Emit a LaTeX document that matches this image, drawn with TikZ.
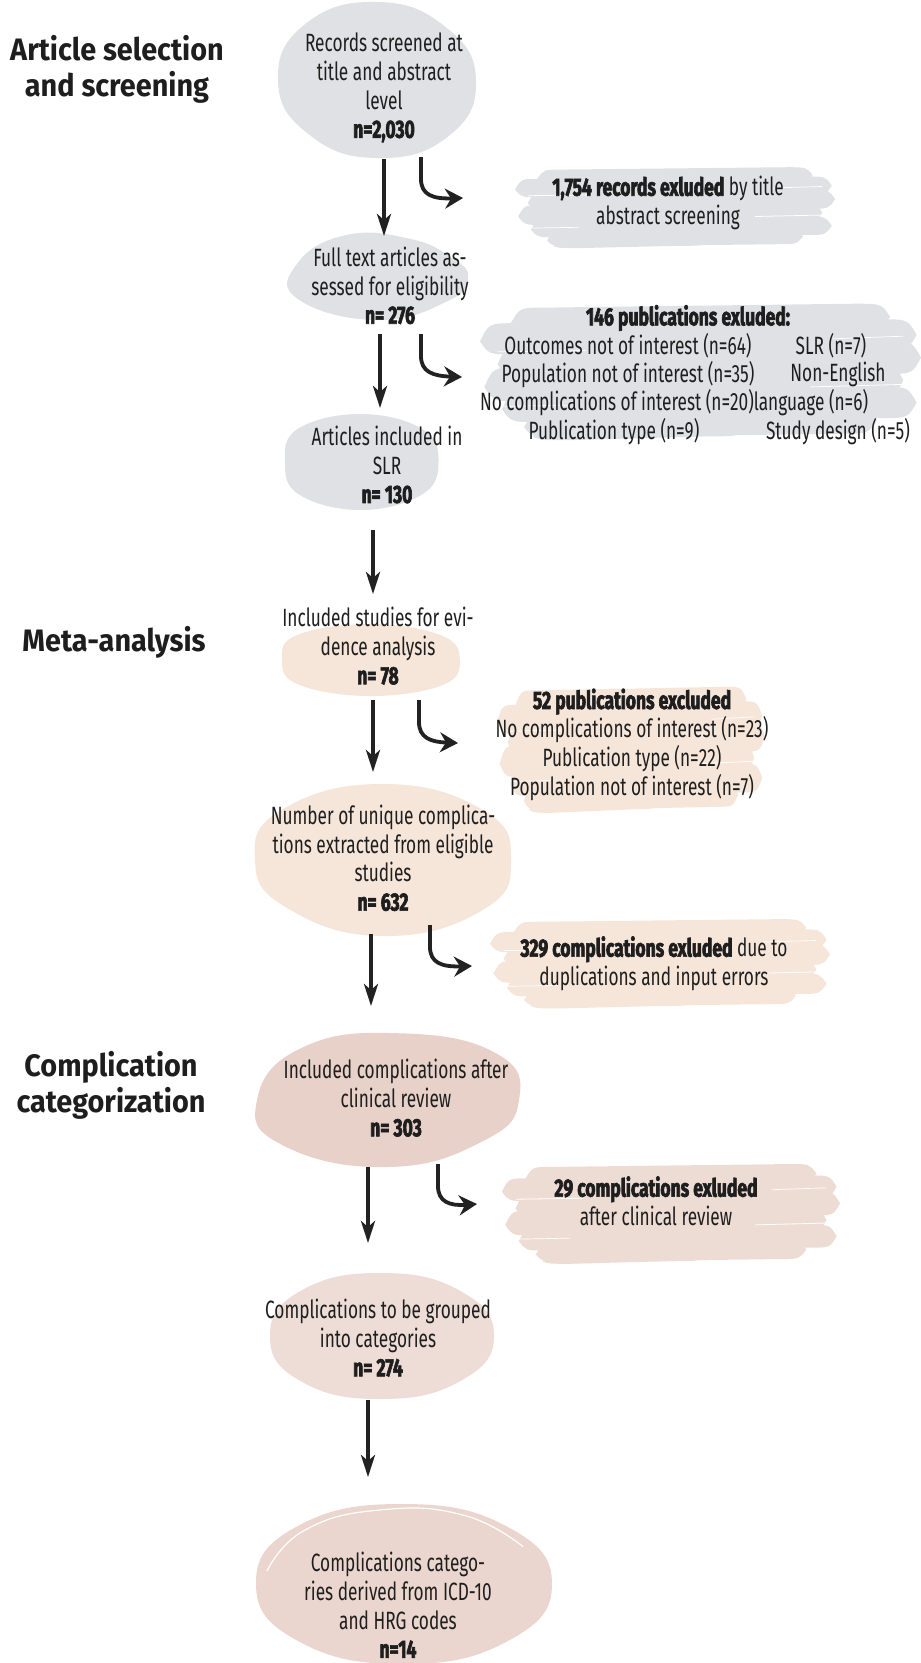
\documentclass[tikz,border=0pt]{standalone}
\usepackage{fontspec}
\setmainfont[FakeStretch=0.69]{Fira Sans}
\newfontfamily\heavyfam[FakeStretch=0.70,FakeBold=2.5,UprightFont={* Bold}]{Fira Sans}
\newfontfamily\headfam[FakeStretch=0.93]{Fira Sans}
\usetikzlibrary{arrows.meta,calc}
\definecolor{grayb}{HTML}{DFE1E4}
\definecolor{beigeb}{HTML}{F6E6DA}
\definecolor{pinka}{HTML}{E8D1C8}
\definecolor{pinkb}{HTML}{EEDDD6}
\definecolor{pinkc}{HTML}{EAD6CE}
\definecolor{pinkd}{HTML}{EDDCD4}
\definecolor{textc}{HTML}{1E1E1E}
\definecolor{arrc}{HTML}{222222}
\newcommand\hv[1]{{\heavyfam #1}}
\newcommand\streak[4]{\fill (#1,{(#3+#4)/2+0.02}) .. controls ({#1+0.02},#3) .. ({#1+0.08},#3) -- ({#2-0.08},{#3-0.03}) .. controls ({#2-0.02},{#3-0.03}) .. (#2,{(#3+#4)/2-0.03}) .. controls ({#2-0.02},{#4-0.03}) .. ({#2-0.08},{#4-0.03}) -- ({#1+0.08},#4) .. controls ({#1+0.02},#4) .. cycle;}
\newcommand\brushband[5]{%
\begin{scope}[shift={(#1,#2)},xscale=#3,yscale=#4,fill=#5]
\streak{0.07}{0.93}{0.02}{0.22}
\streak{0.00}{0.99}{0.14}{0.38}
\streak{0.04}{1.00}{0.31}{0.56}
\streak{0.01}{0.96}{0.48}{0.74}
\streak{0.05}{0.99}{0.66}{0.90}
\streak{0.10}{0.90}{0.82}{1.02}
\streak{0.12}{0.60}{0.95}{1.04}
\draw[white,line width=0.8pt] (0.04,0.36) -- (0.24,0.35);
\draw[white,line width=0.8pt] (0.75,0.63) -- (0.97,0.61);
\draw[white,line width=0.7pt] (0.05,0.78) -- (0.2,0.77);
\draw[white,line width=0.7pt] (0.8,0.26) -- (0.96,0.24);
\end{scope}}
\tikzset{
  txt/.style={align=center,inner sep=0pt,text=textc,font=\fontsize{25}{28.7}\selectfont},
  headtxt/.style={align=center,inner sep=0pt,text=textc,font=\headfam\bfseries\fontsize{31}{36}\selectfont},
  arr/.style={draw=arrc,line width=3.8pt,-{Stealth[length=22pt,width=14pt,inset=6pt]}},
  carr/.style={draw=arrc,line width=3.8pt,-{Stealth[length=18pt,width=20pt,inset=6pt]}}
}
\begin{document}
\begin{tikzpicture}[x=1pt,y=-1pt]
\useasboundingbox (0,0) rectangle (921,1663);
\fill[white] (0,0) rectangle (921,1663);
% ---------- blobs ----------
\begin{scope}[shift={(377,80)},xscale=99,yscale=78]
\fill[grayb] plot[smooth cycle,tension=0.8] coordinates {(0:1) (45:1.02) (90:1) (135:0.98) (180:1) (225:1.02) (270:1) (315:0.97)};
\end{scope}
\begin{scope}[shift={(378,278)},xscale=90,yscale=42]
\fill[grayb] plot[smooth cycle,tension=0.8] coordinates {(0:1) (35:0.95) (90:1) (150:1.02) (200:0.96) (250:1.08) (290:1) (330:0.95)};
\end{scope}
\begin{scope}[shift={(361,462)},xscale=76,yscale=48]
\fill[grayb] plot[smooth cycle,tension=0.7] coordinates {(0:1.02) (40:1.05) (90:1) (140:1.06) (180:1) (220:1.08) (270:1) (320:1.06)};
\end{scope}
\begin{scope}[shift={(370,660)},xscale=88,yscale=36]
\fill[beigeb] plot[smooth cycle,tension=0.7] coordinates {(0:1.02) (40:1.08) (90:1) (140:1.06) (180:1) (220:1.08) (270:1) (320:1.06)};
\end{scope}
\begin{scope}[shift={(383,860)},xscale=128,yscale=76]
\fill[beigeb] plot[smooth cycle,tension=0.8] coordinates {(0:1) (40:1.02) (90:1) (140:0.98) (180:1) (220:1.03) (270:1) (320:1.02)};
\end{scope}
\begin{scope}[shift={(388,1100)},xscale=131,yscale=67]
\fill[pinka] plot[smooth cycle,tension=0.8] coordinates {(0:1) (40:0.95) (90:1) (140:1.05) (180:1) (230:1.02) (275:1) (320:1.08)};
\end{scope}
\begin{scope}[shift={(382,1336)},xscale=112,yscale=63]
\fill[pinkb] plot[smooth cycle,tension=0.8] coordinates {(0:1) (45:1.0) (90:1) (135:1.02) (180:1) (225:1.02) (270:1) (315:1.0)};
\end{scope}
\begin{scope}[shift={(404,1584)},xscale=148,yscale=80]
\fill[pinkc] plot[smooth cycle,tension=0.8] coordinates {(0:1) (45:1.0) (90:1) (135:1.01) (180:1) (225:1.02) (270:1) (315:1.0)};
\draw[white,line width=1.2pt] plot[smooth,tension=0.8] coordinates {(190:0.94) (225:0.95) (260:0.94) (295:0.95) (330:0.93)};
\end{scope}
% ---------- brush bands ----------
\brushband{515}{168}{320}{77}{grayb}
\brushband{480}{305}{441}{130}{grayb}
\brushband{497}{688}{268}{120}{beigeb}
\brushband{490}{920}{340}{85}{beigeb}
\brushband{502}{1165}{338}{95}{pinkd}
% ---------- headings ----------
\node[headtxt] (h1) at (117,69) {Article selection\\and screening};
\node[headtxt] (h2) at (114,642) {Meta-analysis};
\node[headtxt] (h3) at (111,1085) {Complication\\categorization};
% ---------- main nodes ----------
\node[txt] (n1) at (384,87.6) {Records screened at\\title and abstract\\level\\\hv{n=2,030}};
\node[txt] (n2) at (390,285.5) {Full text articles as-\\sessed for eligibility\\\hv{n= 276}};
\node[txt] (n3) at (387,464.7) {Articles included in\\SLR\\\hv{n= 130}};
\node[txt] (n4) at (378,646) {Included studies for evi-\\dence analysis\\\hv{n= 78}};
\node[txt] (n5) at (383,858) {Number of unique complica-\\tions extracted from eligible\\studies\\\hv{n= 632}};
\node[txt] (n6) at (396,1098) {Included complications after\\clinical review\\\hv{n= 303}};
\node[txt] (n7) at (378,1338) {Complications to be grouped\\into categories\\\hv{n= 274}};
\node[txt] (n8) at (398,1605) {Complications catego-\\ries derived from ICD-10\\and HRG codes\\\hv{n=14}};
% ---------- excluded ----------
\node[txt] (e1) at (668,203) {\hv{1,754 records exluded} by title\\abstract screening};
\node[txt] (e2) at (688,318) {\hv{146 publications exluded:}};
\node[txt] (e2a) at (628,346) {Outcomes not of interest (n=64)};
\node[txt] (e2b) at (628,374.5) {Population not of interest (n=35)};
\node[txt] (e2c) at (617,403) {No complications of interest (n=20)};
\node[txt] (e2d) at (614,432) {Publication type (n=9)};
\node[txt] (e2e) at (831,346) {SLR (n=7)};
\node[txt] (e2f) at (838,374.5) {Non-English};
\node[txt] (e2g) at (811,403) {language (n=6)};
\node[txt] (e2h) at (838,432) {Study design (n=5)};
\node[txt] (e3) at (632,744.5) {\hv{52 publications excluded}\\No complications of interest (n=23)\\Publication type (n=22)\\Population not of interest (n=7)};
\node[txt] (e4) at (654,963.5) {\hv{329 complications exluded} due to\\duplications and input errors};
\node[txt] (e5) at (656,1201) {\hv{29 complications exluded}\\after clinical review};
% ---------- straight arrows ----------
\coordinate (a1s) at (384,159); \coordinate (a1e) at (384,236);
\coordinate (a2s) at (380,334); \coordinate (a2e) at (380,408);
\coordinate (a3s) at (373,530); \coordinate (a3e) at (373,594);
\coordinate (a4s) at (373,700); \coordinate (a4e) at (373,772);
\coordinate (a5s) at (371,934); \coordinate (a5e) at (371,1006);
\coordinate (a6s) at (368,1167); \coordinate (a6e) at (368,1243);
\coordinate (a7s) at (368,1400); \coordinate (a7e) at (368,1477);
\foreach \i in {1,...,7} {\draw[arr] (a\i s) -- (a\i e);}
% ---------- curved arrows ----------
\coordinate (c1s) at (421,157);  \coordinate (c1e) at (463,198);
\coordinate (c2s) at (421,334);  \coordinate (c2e) at (462,377);
\coordinate (c3s) at (419,700);  \coordinate (c3e) at (458,743);
\coordinate (c4s) at (430,925);  \coordinate (c4e) at (472,966);
\coordinate (c5s) at (438,1164); \coordinate (c5e) at (477,1204);
\foreach \i in {1,...,5} {\draw[carr] (c\i s) -- ($(c\i s)+(0,22)$) .. controls ($(c\i s)+(0,38)$) and ($(c\i s)+(12,42)$) .. (c\i e);}
\end{tikzpicture}
\end{document}
